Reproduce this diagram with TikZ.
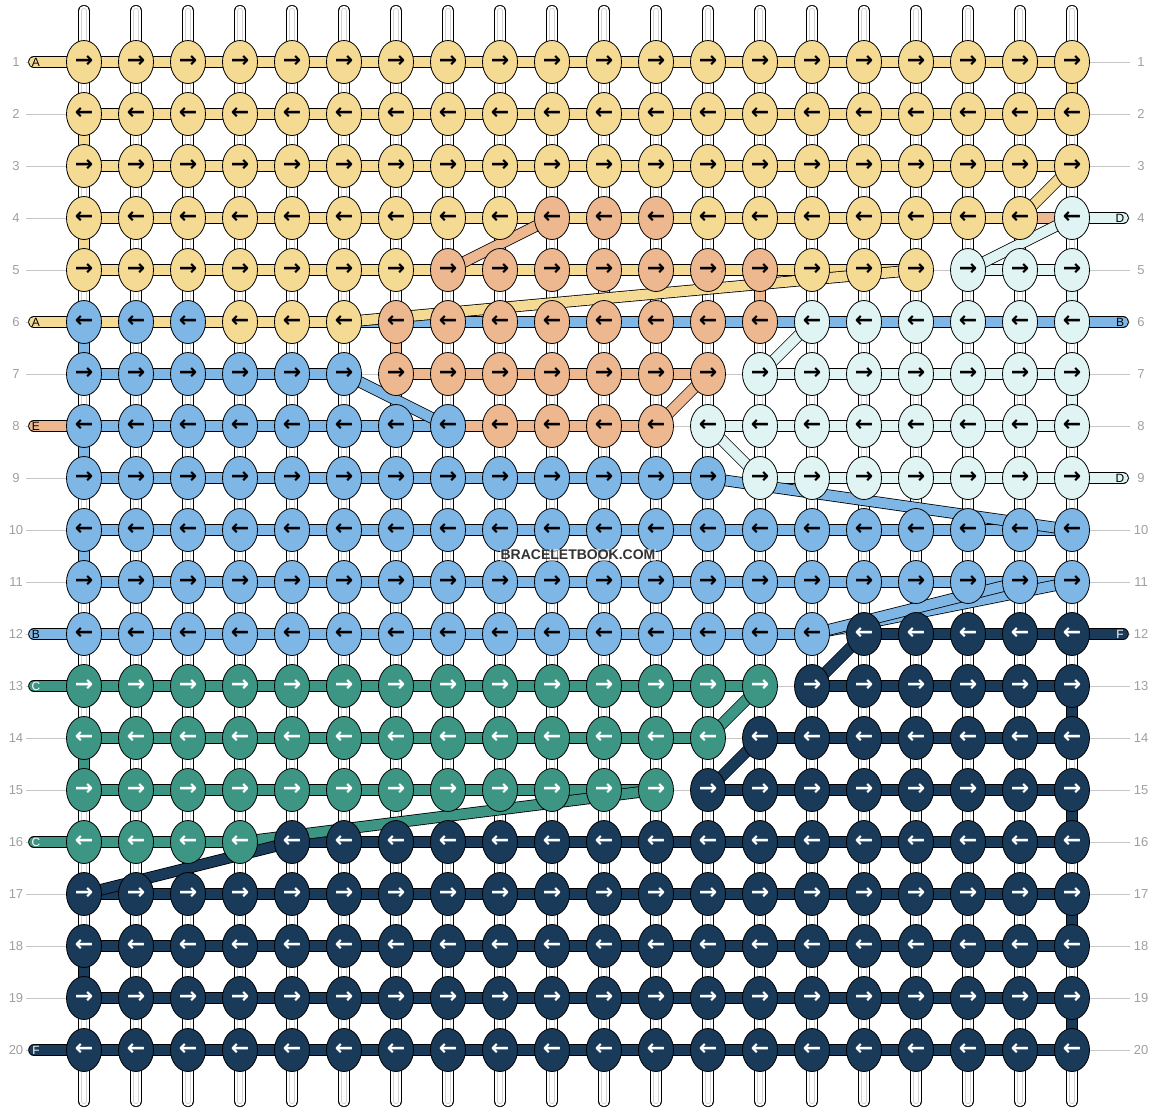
\documentclass[tikz,border=0pt]{standalone}
\usepackage{fontspec}
\setmainfont{Liberation Sans}
\newfontfamily\arrowfont{DejaVu Sans}
\usepackage{xcolor}
\usepackage{tikz}
\usetikzlibrary{shapes.geometric, positioning, calc}
\definecolor{colA}{HTML}{F5DA93}
\definecolor{colE}{HTML}{EDB890}
\definecolor{colB}{HTML}{7EB6E6}
\definecolor{colD}{HTML}{E0F4F3}
\definecolor{colC}{HTML}{3D9684}
\definecolor{colF}{HTML}{1A3A5A}
\colorlet{txtA}{black}
\colorlet{txtE}{black}
\colorlet{txtB}{black}
\colorlet{txtD}{black}
\colorlet{txtC}{white}
\colorlet{txtF}{white}
\tikzset{
    knot/.style={
        ellipse,
        draw=black,
        line width=0.8pt,
        minimum width=35pt,
        minimum height=43pt,
        inner sep=0pt,
    },
    arrowtxt/.style={
        inner sep=0pt,
        font=\arrowfont\bfseries\fontsize{22}{22}\selectfont,
    },
    strand/.style={
        draw=black,
        line width=0.8pt,
        double distance=10pt,
        line cap=round,
    },
    basestr/.style={
        draw=black,
        line width=0.8pt,
        double=white,
        double distance=10.5pt,
        line cap=round,
    },
    basegap/.style={
        draw=gray!35,
        line width=0.8pt,
        double=white,
        double distance=4.5pt,
        line cap=round,
    },
    guide/.style={draw=gray!45, line width=0.8pt},
    rownum/.style={text=gray!75, font=\fontsize{13}{13}\selectfont},
    tablabel/.style={font=\fontsize{12}{12}\selectfont, inner sep=0pt},
    watermark/.style={
        text=black!80,
        font=\fontsize{14}{14}\selectfont\bfseries,
        fill=white, fill opacity=0.55, text opacity=1,
        inner sep=1pt,
    },
}

\begin{document}
\begin{tikzpicture}[x=1pt, y=-1pt]
    \useasboundingbox (0,0) rectangle (1156,1112);

    % grid
    \foreach \r in {1,...,20}
      \foreach \c in {1,...,20}
        \coordinate (p\r-\c) at ({84+52*(\c-1)},{62+52*(\r-1)});

    % row guides and numbers
    \foreach \r in {1,...,20} {
      \coordinate (gl\r) at (26,{62+52*(\r-1)});
      \coordinate (gr\r) at (1130,{62+52*(\r-1)});
      \draw[guide] (gl\r) -- (gr\r);
      \node[rownum] (nl\r) at (16,{62+52*(\r-1)}) {\r};
      \node[rownum] (nr\r) at (1141,{62+52*(\r-1)}) {\r};
    }

    % base strings
    \foreach \c in {1,...,20} {
      \coordinate (top\c) at ({84+52*(\c-1)},11);
      \coordinate (bot\c) at ({84+52*(\c-1)},1101);
      \draw[basestr] (top\c) -- (bot\c);
      \draw[basegap] (top\c) -- (bot\c);
    }

    % string ends
    \foreach \r/\s in {1/A,6/A,8/E,12/B,13/C,16/C,20/F} {
      \coordinate (tl\r) at (34,{62+52*(\r-1)});
      \draw[strand, double=col\s] (tl\r) -- (p\r-1);
      \node[tablabel, text=txt\s] (ll\r) at (36,{62+52*(\r-1)}) {\s};
    }
    \foreach \r/\s in {4/D,6/B,9/D,12/F} {
      \coordinate (tr\r) at (1123,{62+52*(\r-1)});
      \draw[strand, double=col\s] (p\r-20) -- (tr\r);
      \node[tablabel, text=txt\s] (lr\r) at (1120,{62+52*(\r-1)}) {\s};
    }

    % rows
    \foreach \r/\a/\b/\s in {1/1/20/A, 2/1/20/A, 3/1/20/A, 4/1/19/A, 4/19/20/E,
        5/1/17/A, 5/18/20/D, 6/6/20/B, 6/1/6/A, 7/1/6/B, 7/7/13/E, 7/14/20/D,
        8/1/8/B, 8/8/12/E, 8/13/20/D, 9/1/13/B, 9/14/20/D, 10/1/20/B, 11/1/20/B,
        12/1/15/B, 12/16/20/F, 13/1/14/C, 13/15/20/F, 14/1/13/C, 14/14/20/F,
        15/1/12/C, 15/13/20/F, 16/1/4/C, 16/5/20/F, 17/1/20/F, 18/1/20/F,
        19/1/20/F, 20/1/20/F}
      \draw[strand, double=col\s] (p\r-\a) -- (p\r-\b);

    % turns
    \foreach \c/\r/\s in {1/2/A, 1/4/A, 1/6/B, 1/8/B, 1/10/B, 1/14/C, 1/18/F,
        20/1/A, 20/5/D, 20/7/D, 20/13/F, 20/15/F, 20/17/F, 20/19/F, 14/5/E, 7/6/E} {
      \pgfmathtruncatemacro\rr{\r+1}
      \draw[strand, double=col\s] (p\r-\c) -- (p\rr-\c);
    }

    % crossings
    \foreach \ra/\ca/\rb/\cb/\s in {3/20/4/19/A, 4/10/5/8/E, 4/20/5/18/D, 5/17/6/6/A,
        6/15/7/14/D, 7/6/8/8/B, 7/13/8/12/E, 8/13/9/14/D, 9/13/10/20/B,
        11/20/12/15/B, 11/19/12/15/B, 12/16/13/15/F, 13/14/14/13/C,
        14/14/15/13/F, 15/12/16/4/C, 16/5/17/1/F}
      \draw[strand, double=col\s] (p\ra-\ca) -- (p\rb-\cb);

    % knots
    \foreach \r/\a/\b/\s in {1/1/20/A, 2/1/20/A, 3/1/20/A,
        4/1/9/A, 4/10/12/E, 4/13/19/A, 4/20/20/D,
        5/1/7/A, 5/8/14/E, 5/15/17/A, 5/18/20/D,
        6/1/3/B, 6/4/6/A, 6/7/14/E, 6/15/20/D,
        7/1/6/B, 7/7/13/E, 7/14/20/D,
        8/1/8/B, 8/9/12/E, 8/13/20/D,
        9/1/13/B, 9/14/20/D, 10/1/20/B, 11/1/20/B,
        12/1/15/B, 12/16/20/F, 13/1/14/C, 13/15/20/F,
        14/1/13/C, 14/14/20/F, 15/1/12/C, 15/13/20/F,
        16/1/4/C, 16/5/20/F, 17/1/20/F, 18/1/20/F, 19/1/20/F, 20/1/20/F}
      \foreach \c in {\a,...,\b}
        \node[knot, fill=col\s,
          label={[arrowtxt, text=txt\s]center:\ifodd\r →\else ←\fi}] (k\r-\c) at (p\r-\c) {};

    \node[watermark] (wm) at (578,555) {BRACELETBOOK.COM};
\end{tikzpicture}
\end{document}
